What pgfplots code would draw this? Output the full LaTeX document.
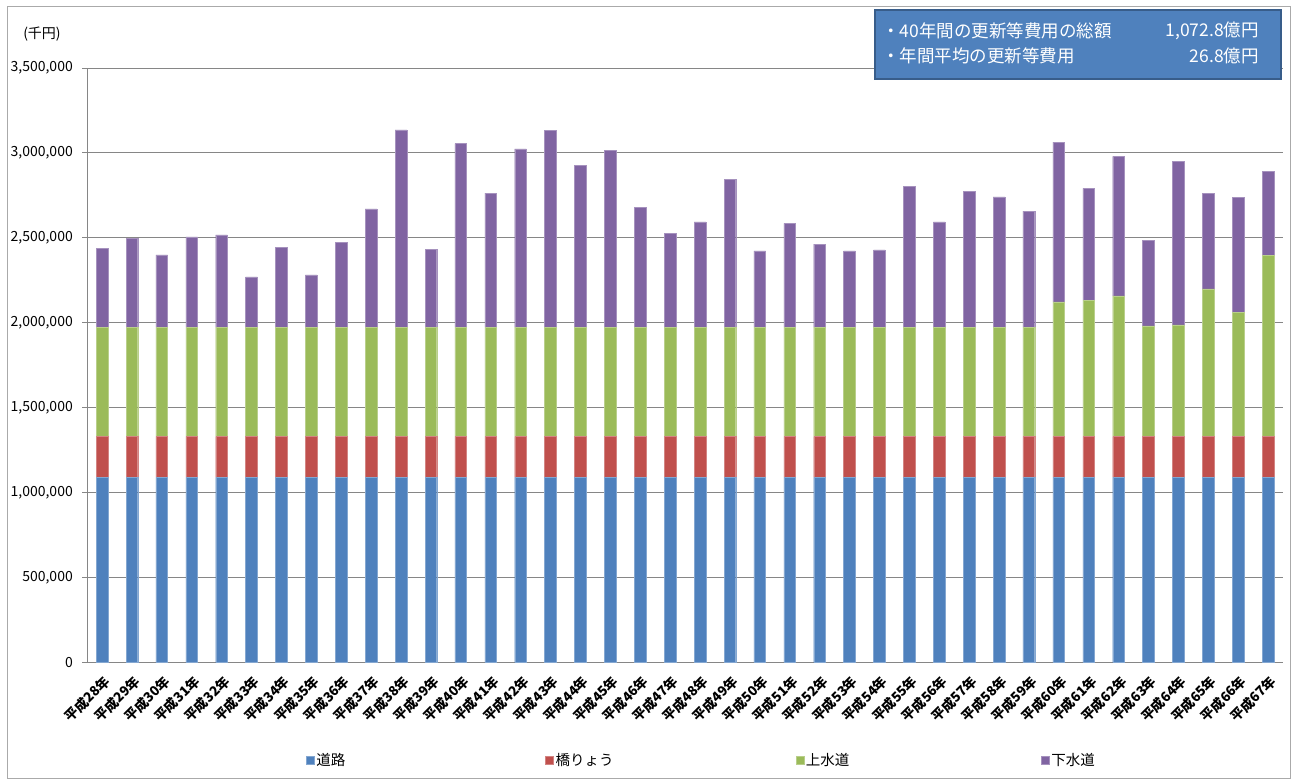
\documentclass[border=0pt]{standalone}
\usepackage{fontspec}
\setmainfont{Noto Sans CJK JP}
\usepackage{pgfplots}
\usepackage{pgfplotstable}
\pgfplotsset{compat=1.18}
\definecolor{cRoad}{HTML}{4F81BD}
\definecolor{cBridge}{HTML}{C0504D}
\definecolor{cWater}{HTML}{9BBB59}
\definecolor{cSewer}{HTML}{8064A2}
\definecolor{gridgray}{HTML}{868686}
\definecolor{boxfill}{HTML}{4F81BD}
\definecolor{boxdraw}{HTML}{385D8A}

\pgfplotstableread{
x road bridge water sewer
0 1090000 240000 645000 464000
1 1090000 240000 645000 521000
2 1090000 240000 645000 425000
3 1090000 240000 645000 531000
4 1090000 240000 645000 542000
5 1090000 240000 645000 295000
6 1090000 240000 645000 470000
7 1090000 240000 645000 307000
8 1090000 240000 645000 499000
9 1090000 240000 645000 696000
10 1090000 240000 645000 1161000
11 1090000 240000 645000 458000
12 1090000 240000 645000 1080000
13 1090000 240000 645000 788000
14 1090000 240000 645000 1049000
15 1090000 240000 645000 1157000
16 1090000 240000 645000 953000
17 1090000 240000 645000 1039000
18 1090000 240000 645000 706000
19 1090000 240000 645000 550000
20 1090000 240000 645000 619000
21 1090000 240000 645000 871000
22 1090000 240000 645000 448000
23 1090000 240000 645000 611000
24 1090000 240000 645000 488000
25 1090000 240000 645000 448000
26 1090000 240000 645000 454000
27 1090000 240000 645000 829000
28 1090000 240000 645000 619000
29 1090000 240000 645000 800000
30 1090000 240000 645000 766000
31 1090000 240000 645000 682000
32 1090000 240000 793000 940000
33 1090000 240000 801000 661000
34 1090000 240000 828000 821000
35 1090000 240000 652000 504000
36 1090000 240000 658000 963000
37 1090000 240000 870000 561000
38 1090000 240000 732000 675000
39 1090000 240000 1068000 495000
}\data

\begin{document}
\begin{tikzpicture}
\path[use as bounding box] (0pt,0pt) rectangle (1293pt,780pt);
\draw[color=gridgray!70, line width=0.9pt] (7pt,2pt) rectangle (1290pt,774pt);
\begin{axis}[
  at={(87pt,117.5pt)}, anchor=south west,
  scale only axis, width=1196pt, height=594.5pt,
  xmin=-0.5, xmax=39.5, ymin=0, ymax=3500000,
  ybar stacked, bar width=11.7pt,
  axis lines*=left,
  axis line style={draw=gridgray, line width=0.9pt, -},
  ymajorgrids, grid style={draw=gridgray, line width=0.9pt},
  ytick={0,500000,1000000,1500000,2000000,2500000,3000000,3500000},
  scaled y ticks=false,
  y tick label style={/pgf/number format/fixed, /pgf/number format/1000 sep={,}, /pgf/number format/assume math mode=true, font=\fontsize{14}{14}\selectfont, inner sep=0pt, xshift=-9pt},
  ytick pos=left, tick align=outside, major tick length=5pt,
  ytick style={draw=gridgray, line width=0.9pt},
  xtick=data,
  xtick style={draw=none},
  xticklabels={平成28年,平成29年,平成30年,平成31年,平成32年,平成33年,平成34年,平成35年,平成36年,平成37年,平成38年,平成39年,平成40年,平成41年,平成42年,平成43年,平成44年,平成45年,平成46年,平成47年,平成48年,平成49年,平成50年,平成51年,平成52年,平成53年,平成54年,平成55年,平成56年,平成57年,平成58年,平成59年,平成60年,平成61年,平成62年,平成63年,平成64年,平成65年,平成66年,平成67年},
  x tick label style={font=\bfseries\fontsize{13.5}{13.5}\selectfont, rotate=45, anchor=north east, inner sep=0pt, yshift=-5pt, xshift=-4pt},
  legend style={at={(0.183,-0.164)}, anchor=west, draw=none, fill=none, legend columns=4, font=\fontsize{14.5}{14.5}\selectfont, inner sep=0pt,
    /tikz/every even column/.append style={column sep=0pt}},
  legend image code/.code={\fill[#1] (0pt,-4pt) rectangle (8pt,4pt);},
  legend cell align=left,
]
\addplot[fill=cRoad, draw=cRoad!70!white, line width=0.3pt] table[x=x, y=road] {\data};
\addlegendentry{\makebox[227pt][l]{道路}}
\addplot[fill=cBridge, draw=cBridge!70!white, line width=0.3pt] table[x=x, y=bridge] {\data};
\addlegendentry{\makebox[238pt][l]{橋りょう}}
\addplot[fill=cWater, draw=cWater!70!white, line width=0.3pt] table[x=x, y=water] {\data};
\addlegendentry{\makebox[233pt][l]{上水道}}
\addplot[fill=cSewer, draw=cSewer!70!white, line width=0.3pt] table[x=x, y=sewer] {\data};
\addlegendentry{下水道}
\end{axis}
\node[font=\fontsize{14}{14}\selectfont, anchor=center] at (42pt,746pt) {(千円)};
\draw[fill=boxfill, draw=boxdraw, line width=2pt] (875pt,701pt) rectangle (1281pt,770pt);
\node[font=\fontsize{17.5}{18}\selectfont, text=white, anchor=west, inner sep=0pt] at (882pt,749.3pt) {・40年間の更新等費用の総額};
\node[font=\fontsize{17.5}{18}\selectfont, text=white, anchor=east, inner sep=0pt] at (1259pt,749.3pt) {1,072.8億円};
\node[font=\fontsize{17.5}{18}\selectfont, text=white, anchor=west, inner sep=0pt] at (882pt,724.3pt) {・年間平均の更新等費用};
\node[font=\fontsize{17.5}{18}\selectfont, text=white, anchor=east, inner sep=0pt] at (1259pt,724.3pt) {26.8億円};
\end{tikzpicture}
\end{document}
